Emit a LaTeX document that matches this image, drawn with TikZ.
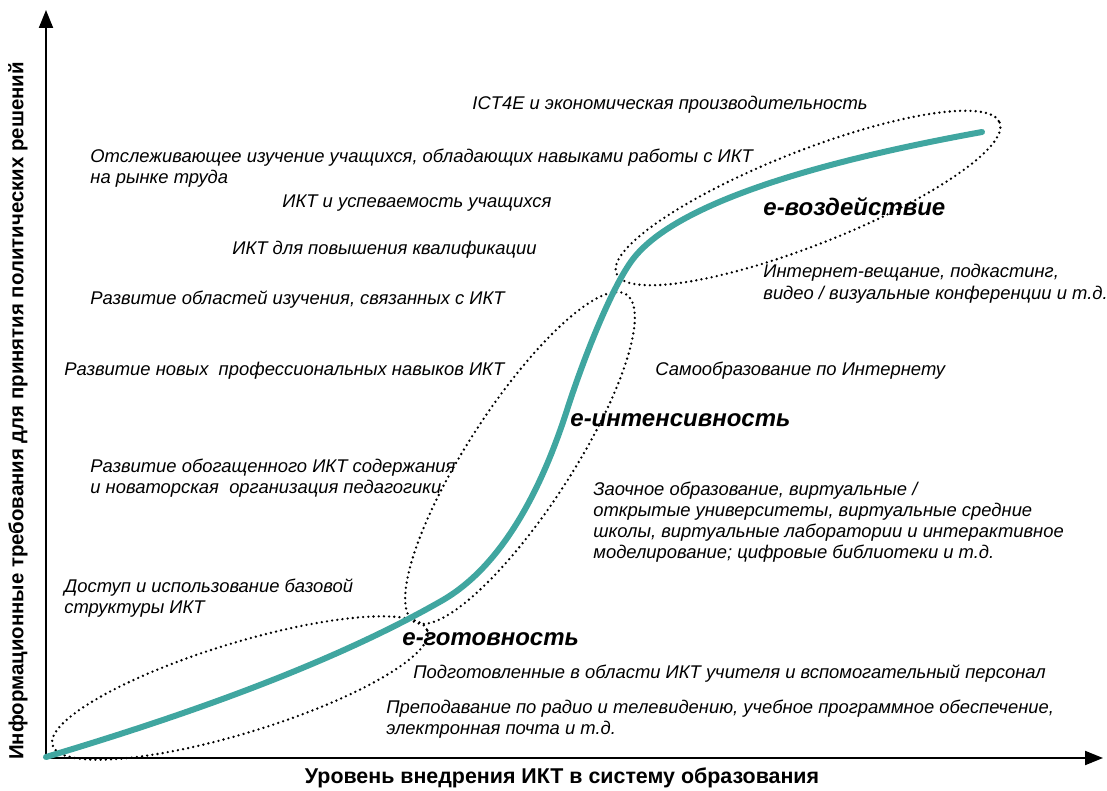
\documentclass[tikz,border=0pt]{standalone}
\usepackage{fontspec}
\setmainfont{Liberation Sans}
\usepackage{tikz}
\usetikzlibrary{arrows.meta}
\definecolor{curveteal}{RGB}{64,166,160}

\begin{document}
\begin{tikzpicture}[
      x = .5pt, y = -.5pt,
      every node/.style = {
        anchor = base west, inner sep = 0pt, align = left,
        font = \fontsize{9.2}{10.5}\selectfont\itshape},
      phase/.style = {font = \fontsize{12}{14}\selectfont\bfseries\itshape},
      axislabel/.style = {anchor = center, font = \fontsize{10.2}{12}\selectfont\bfseries},
      zone/.style = {draw, line width = 1.3pt, dash pattern = on 0pt off 2.6pt, line cap = round},
      axis/.style = {line width = 1pt, -{Triangle[length = 9pt, width = 7pt]}},
      every path/.style = {black}
      ]
    \useasboundingbox (0,0) rectangle (1107,791);
    % axes
    \coordinate (O) at (46,758);
    \coordinate (Ytop) at (46,10);
    \coordinate (Xend) at (1103,758);
    \draw[axis] (O)--(Ytop);
    \draw[axis] (O)--(Xend);
    \node[axislabel, rotate = 90] (ylab) at (18,411) {Информационные требования для принятия политических решений};
    \node[axislabel, font = \fontsize{10.7}{12}\selectfont\bfseries] (xlab) at (562,778) {Уровень внедрения ИКТ в систему образования};
    % zones
    \draw[zone, rotate around = {17:(240,688)}] (240,688) ellipse [x radius = 196, y radius = 45];
    \draw[zone, rotate around = {57:(520,458)}] (520,458) ellipse [x radius = 195, y radius = 52];
    \draw[zone, rotate around = {21.5:(808,198)}] (808,198) ellipse [x radius = 206, y radius = 47];
    % curve
    \coordinate (c0) at (46,757);
    \coordinate (c1) at (443,600);
    \coordinate (c2) at (567,410);
    \coordinate (c3) at (633,259);
    \coordinate (c4) at (982,132);
    \draw[curveteal, line width = 3pt, line cap = round]
      (c0) .. controls (180,717) and (330,665) .. (c1)
           .. controls (503,565) and (542,488) .. (c2)
           .. controls (585,354) and (613,285) .. (c3)
           .. controls (673,207) and (800,165) .. (c4);
    % texts
    \node (t0) at (472,110) {ICT4E и экономическая производительность};
    \node (t1) at (90,184) {Отслеживающее изучение учащихся, обладающих навыками работы с ИКТ\\на рынке труда};
    \node (t2) at (282,208) {ИКТ и успеваемость учащихся};
    \node (t3) at (232,255) {ИКТ для повышения квалификации};
    \node (t4) at (90,304) {Развитие областей изучения, связанных с ИКТ};
    \node (t5) at (64,375) {Развитие новых~ профессиональных навыков ИКТ};
    \node (t6) at (90,493) {Развитие обогащенного ИКТ содержания\\и новаторская~ организация педагогики};
    \node (t7) at (64,613) {Доступ и использование базовой\\структуры ИКТ};
    \node (t8) at (413,678) {Подготовленные в области ИКТ учителя и вспомогательный персонал};
    \node (t9) at (386,734) {Преподавание по радио и телевидению, учебное программное обеспечение,\\электронная почта и т.д.};
    \node (t10) at (593,558) {Заочное образование, виртуальные /\\открытые университеты, виртуальные средние\\школы, виртуальные лаборатории и интерактивное\\моделирование; цифровые библиотеки и т.д.};
    \node (t11) at (655,375) {Самообразование по Интернету};
    \node (t12) at (763,299) {Интернет-вещание, подкастинг,\\видео / визуальные конференции и т.д.};
    % phases
    \node[phase] (ready) at (402,645) {е-готовность};
    \node[phase] (intens) at (570,426) {е-интенсивность};
    \node[phase] (impact) at (763,216) {е-воздействие};
  \end{tikzpicture}
\end{document}
